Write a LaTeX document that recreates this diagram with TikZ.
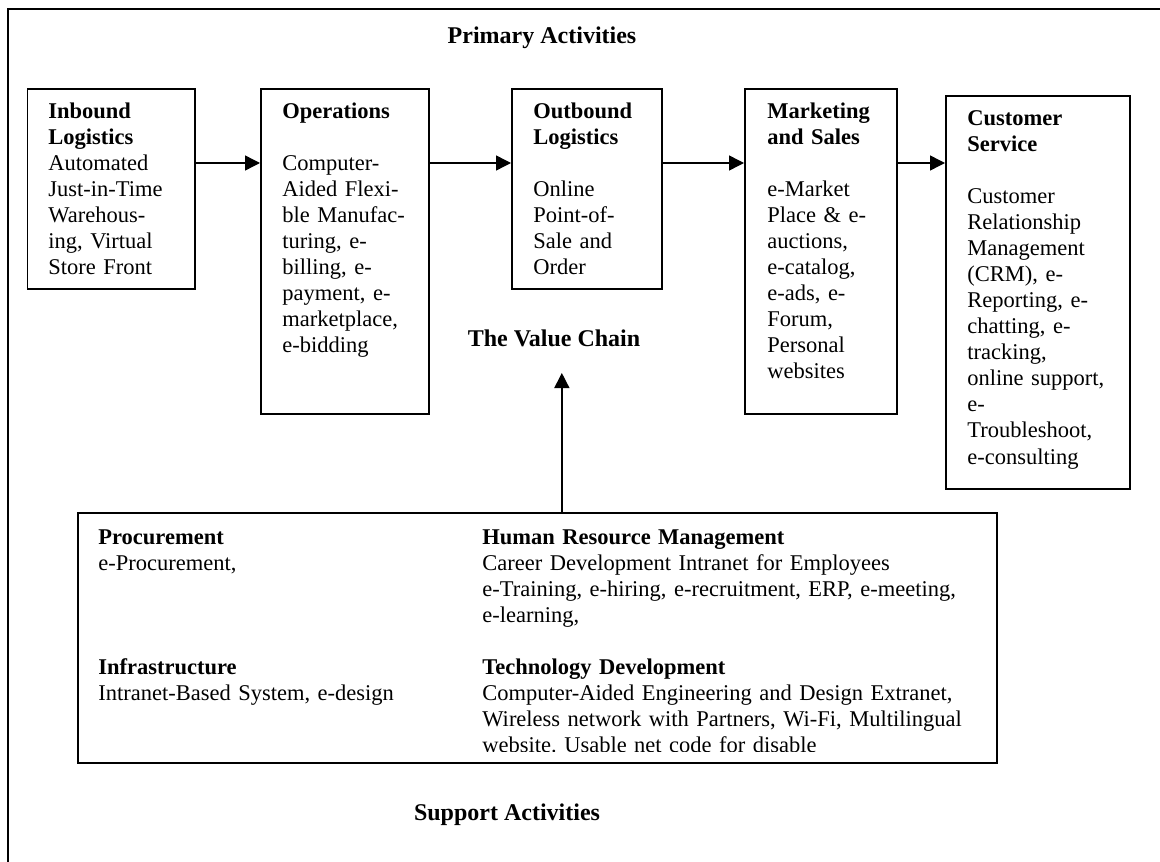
\documentclass[tikz,border=0pt]{standalone}
\usepackage{fontspec}
\setmainfont{Liberation Serif}
\usetikzlibrary{arrows.meta}
\frenchspacing

\begin{document}
\begin{tikzpicture}[x=0.5pt,y=-0.5pt]
        \tikzset{
            caixa/.style={
                draw,
                line width=0.85pt,
                anchor=north west,
                inner sep=0pt
            },
            txt/.style={
                anchor=base west,
                align=left,
                inner sep=0pt,
                text width=#1,
                font=\fontsize{11.25}{13}\selectfont
            },
            txt/.default=200pt,
            titulo/.style={
                inner sep=0pt,
                font=\fontsize{12}{14}\selectfont\bfseries
            },
            seta/.style={
                line width=0.7pt,
                -{Triangle[length=7.5pt,width=7.5pt]}
            }
        }
        \path[use as bounding box] (0,0) rectangle (1160,861);
        \clip (0,0) rectangle (1160,861);

        % moldura
        \draw[line width=0.85pt] (8.3,880) |- (1180,9.3);

        \node[titulo] (primary) at (542,38) {Primary Activities};

        % atividades primarias
        \node[caixa, minimum width=83.65pt, minimum height=100pt] (inbound) at (26.7,88) {};
        \node[caixa, minimum width=84pt, minimum height=162.5pt] (ops) at (260,88) {};
        \node[caixa, minimum width=75pt, minimum height=100pt] (outb) at (511,88) {};
        \node[caixa, minimum width=76pt, minimum height=162.5pt] (mkt) at (744,88) {};
        \node[caixa, minimum width=92pt, minimum height=196.5pt] (cust) at (945,95) {};

        \node[txt] (inboundtxt) at (48,119) {\textbf{Inbound}\\\textbf{Logistics}\\Automated\\Just-in-Time\\Warehous-\\ing, Virtual\\Store Front};
        \node[txt] (opstxt) at (282,119) {\textbf{Operations}\\[13pt]Computer-\\Aided Flexi-\\ble Manufac-\\turing, e-\\billing, e-\\payment, e-\\marketplace,\\e-bidding};
        \node[txt] (outbtxt) at (533,119) {\textbf{Outbound}\\\textbf{Logistics}\\[13pt]Online\\Point-of-\\Sale and\\Order};
        \node[txt] (mkttxt) at (767,119) {\textbf{Marketing}\\\textbf{and Sales}\\[13pt]e-Market\\Place \& e-\\auctions,\\e-catalog,\\e-ads, e-\\Forum,\\Personal\\websites};
        \node[txt] (custtxt) at (967,126) {\textbf{Customer}\\\textbf{Service}\\[13pt]Customer\\Relationship\\Management\\(CRM), e-\\Reporting, e-\\chatting, e-\\tracking,\\online support,\\e-\\Troubleshoot,\\e-consulting};

        \draw[seta] ([yshift=-37.5pt]inbound.north east) -- ([yshift=-37.5pt]ops.north west);
        \draw[seta] ([yshift=-37.5pt]ops.north east) -- ([yshift=-37.5pt]outb.north west);
        \draw[seta] ([yshift=-37.5pt]outb.north east) -- ([yshift=-37.5pt]mkt.north west);
        \draw[seta] ([yshift=-37.5pt]mkt.north east) -- ([yshift=-34pt]cust.north west);

        \node[titulo] (valchain) at (554,338) {The Value Chain};

        % atividades de apoio
        \node[caixa, minimum width=459.5pt, minimum height=125pt] (support) at (77,512) {};
        \draw[seta] ([xshift=12.25pt]support.north) -- +(0,-139);

        \node[txt] (proctxt) at (98,544) {\textbf{Procurement}\\e-Procurement,};
        \node[txt] (infratxt) at (98,674) {\textbf{Infrastructure}\\Intranet-Based System, e-design};
        \node[txt=260pt] (hrmtxt) at (482,544) {\textbf{Human Resource Management}\\Career Development Intranet for Employees\\e-Training, e-hiring, e-recruitment, ERP, e-meeting,\\e-learning,};
        \begin{scope}
            \clip (support.north west) rectangle (996,751);
            \node[txt=260pt] (techtxt) at (482,674) {\textbf{Technology Development}\\Computer-Aided Engineering and Design Extranet,\\Wireless network with Partners, Wi-Fi, Multilingual\\website. Usable net code for disable};
        \end{scope}

        \node[titulo] (suppact) at (507,815) {Support Activities};
\end{tikzpicture}
\end{document}
